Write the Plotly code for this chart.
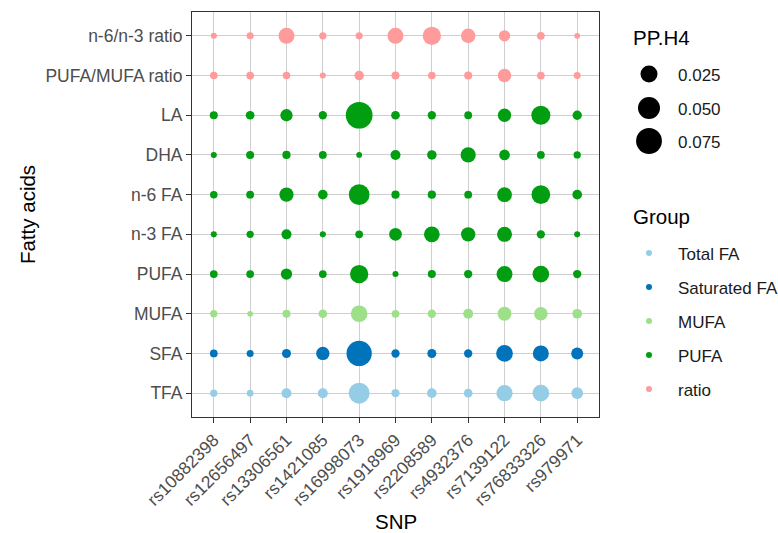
import numpy as np
import plotly.graph_objects as go

# ---------------- data ----------------
snps = ["rs10882398", "rs12656497", "rs13306561", "rs1421085", "rs16998073",
        "rs1918969", "rs2208589", "rs4932376", "rs7139122", "rs76833326", "rs979971"]

fatty_acids = ["TFA", "SFA", "MUFA", "PUFA", "n-3 FA", "n-6 FA", "DHA", "LA",
               "PUFA/MUFA ratio", "n-6/n-3 ratio"]

fa_group = ["Total FA", "Saturated FA", "MUFA", "PUFA", "PUFA", "PUFA", "PUFA", "PUFA",
            "ratio", "ratio"]

group_names = ["Total FA", "Saturated FA", "MUFA", "PUFA", "ratio"]
group_colors = ["#96CDE6", "#0073BA", "#9EE08A", "#009E10", "#FF9B9B"]

# PP.H4 per fatty acid, in SNP order
tfa       = [0.0009, 0.0005, 0.0043, 0.0043, 0.0443, 0.0019, 0.0038, 0.0024, 0.0221, 0.0237, 0.0078]
sfa       = [0.0013, 0.0007, 0.0028, 0.0119, 0.0713, 0.0019, 0.0028, 0.0019, 0.0237, 0.0209, 0.0085]
mufa      = [0.0009, 0.0001, 0.0016, 0.0024, 0.0237, 0.0013, 0.0019, 0.0043, 0.0140, 0.0131, 0.0038]
pufa      = [0.0013, 0.0013, 0.0069, 0.0013, 0.0306, 0.0002, 0.0016, 0.0019, 0.0209, 0.0237, 0.0019]
n3_fa     = [0.0002, 0.0009, 0.0043, 0.0002, 0.0013, 0.0103, 0.0198, 0.0150, 0.0173, 0.0019, 0.0002]
n6_fa     = [0.0011, 0.0014, 0.0147, 0.0038, 0.0427, 0.0018, 0.0018, 0.0014, 0.0166, 0.0325, 0.0038]
dha       = [0.0002, 0.0016, 0.0018, 0.0014, 0.0001, 0.0043, 0.0035, 0.0180, 0.0056, 0.0014, 0.0009]
la        = [0.0016, 0.0024, 0.0092, 0.0019, 0.0815, 0.0024, 0.0019, 0.0014, 0.0119, 0.0339, 0.0032]
pufa_mufa = [0.0011, 0.0013, 0.0011, 0.0002, 0.0035, 0.0016, 0.0011, 0.0016, 0.0125, 0.0013, 0.0006]
n6_n3     = [0.0002, 0.0007, 0.0209, 0.0009, 0.0008, 0.0209, 0.0306, 0.0156, 0.0069, 0.0013, 0.0001]

rows = [tfa, sfa, mufa, pufa, n3_fa, n6_fa, dha, la, pufa_mufa, n6_n3]

size_breaks = [0.025, 0.050, 0.075]
size_labels = ["0.025", "0.050", "0.075"]

# ---------------- styling ----------------
W, H = 778, 533
FONT = "Liberation Sans, Arial, sans-serif"
P_L, P_R, P_T, P_B = 192, 599, 12, 417


def dia(v):
    return 5 + 76 * np.sqrt(np.asarray(v, dtype=float))


fig = go.Figure()

for g, col in zip(group_names, group_colors):
    xs, ys, vs = [], [], []
    for fa, grp, vals in zip(fatty_acids, fa_group, rows):
        if grp != g:
            continue
        xs += snps
        ys += [fa] * len(snps)
        vs += vals
    fig.add_trace(go.Scatter(
        x=xs, y=ys, mode="markers", xaxis="x", yaxis="y",
        marker=dict(size=dia(vs), color=col, line=dict(width=0), opacity=1),
        showlegend=False, name=g, hoverinfo="x+y+text", text=[str(v) for v in vs]))

# ---- legend drawn on an auxiliary pixel-unit axis ----
LEG_X = 649
size_rows_y = [74, 108, 141]
group_rows_y = [253, 287, 321, 355, 389]

fig.add_trace(go.Scatter(
    x=[LEG_X] * len(size_breaks), y=size_rows_y, mode="markers",
    xaxis="x2", yaxis="y2",
    marker=dict(size=dia(size_breaks), color="black", line=dict(width=0), opacity=1),
    showlegend=False, hoverinfo="skip"))
fig.add_trace(go.Scatter(
    x=[LEG_X] * len(group_names), y=group_rows_y, mode="markers",
    xaxis="x2", yaxis="y2",
    marker=dict(size=6, color=group_colors, line=dict(width=0), opacity=1),
    showlegend=False, hoverinfo="skip"))

annotations = []
for lab, yy in zip(size_labels, size_rows_y):
    annotations.append(dict(x=676, y=yy + 1, xref="x2", yref="y2", text=lab, showarrow=False,
                            xanchor="left", yanchor="middle",
                            font=dict(family=FONT, size=17, color="#1A1A1A")))
for lab, yy in zip(group_names, group_rows_y):
    annotations.append(dict(x=676, y=yy + 1, xref="x2", yref="y2", text=lab, showarrow=False,
                            xanchor="left", yanchor="middle",
                            font=dict(family=FONT, size=17, color="#1A1A1A")))
for lab, yy in [("PP.H4", 37), ("Group", 216)]:
    annotations.append(dict(x=631, y=yy, xref="x2", yref="y2", text=lab, showarrow=False,
                            xanchor="left", yanchor="middle",
                            font=dict(family=FONT, size=20.5, color="black")))

# axis titles
annotations.append(dict(x=27 / W, y=1 - 215 / H, xref="paper", yref="paper", text="Fatty acids",
                        showarrow=False, textangle=-90, xanchor="center", yanchor="middle",
                        font=dict(family=FONT, size=20.5, color="black")))
annotations.append(dict(x=395.5 / W, y=1 - 521 / H, xref="paper", yref="paper", text="SNP",
                        showarrow=False, xanchor="center", yanchor="middle",
                        font=dict(family=FONT, size=20.5, color="black")))

common_axis = dict(
    showgrid=True, gridcolor="#CFCFCF", gridwidth=1.3, zeroline=False,
    showline=True, linecolor="#333333", linewidth=1, mirror=True,
    ticks="outside", ticklen=5, tickwidth=1, tickcolor="#333333",
    tickfont=dict(family=FONT, size=17.5, color="#4D4D4D"),
    automargin=False, type="category", fixedrange=True,
)

fig.update_layout(
    width=W, height=H, autosize=False,
    margin=dict(l=0, r=0, t=0, b=0, pad=0),
    paper_bgcolor="white", plot_bgcolor="rgba(0,0,0,0)",
    font=dict(family=FONT),
    xaxis=dict(common_axis, domain=[P_L / W, P_R / W], anchor="y",
               categoryorder="array", categoryarray=snps,
               range=[-0.6, len(snps) - 0.4], tickangle=-45),
    yaxis=dict(common_axis, domain=[1 - P_B / H, 1 - P_T / H], anchor="x",
               categoryorder="array", categoryarray=fatty_acids,
               range=[-0.6, len(fatty_acids) - 0.4]),
    xaxis2=dict(domain=[611 / W, 1], range=[611, W], visible=False, anchor="y2",
                fixedrange=True),
    yaxis2=dict(domain=[0, 1], range=[H, 0], visible=False, anchor="x2", fixedrange=True),
    annotations=annotations,
    showlegend=False,
)

fig.write_html("out.html")
